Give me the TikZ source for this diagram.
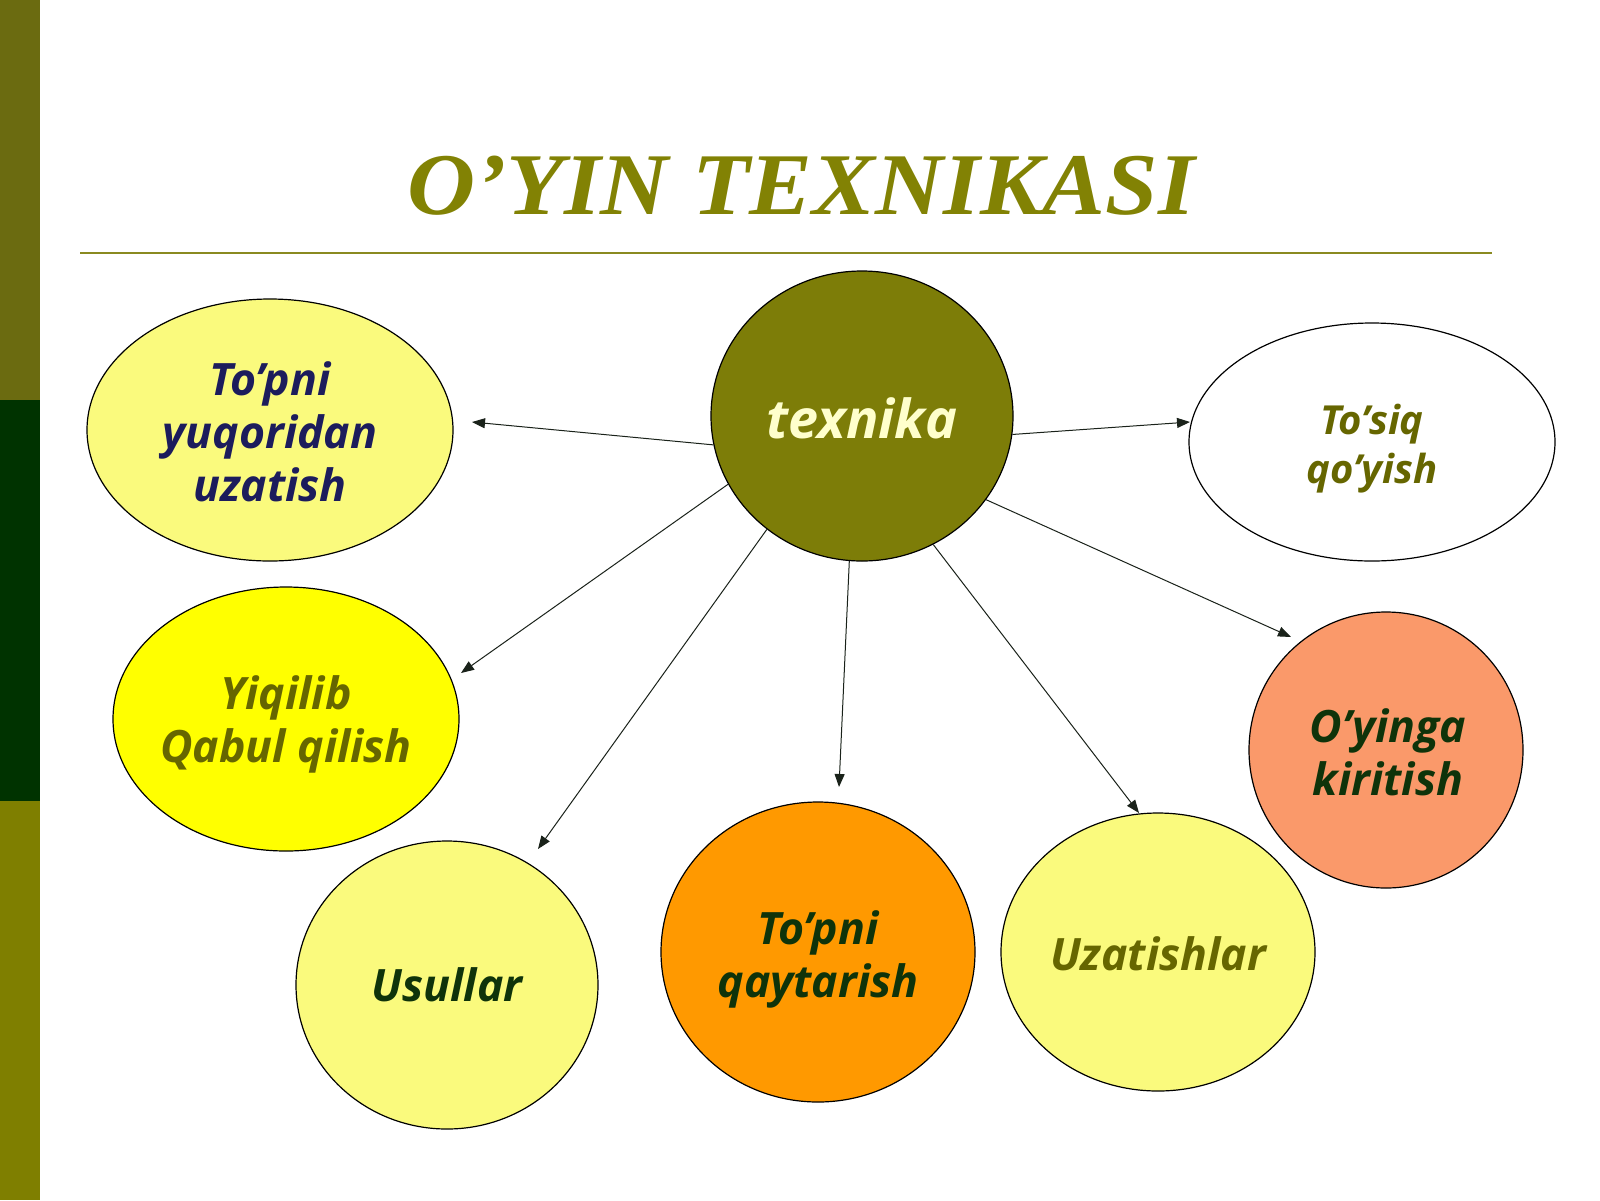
\documentclass[tikz,border=0pt]{standalone}
\usepackage{fontspec}
\usetikzlibrary{shapes.geometric,arrows.meta}
\newfontfamily\nodefont{Open Sans}
\newfontfamily\titlefont{Liberation Serif}
\definecolor{barTop}{HTML}{6B6B10}
\definecolor{barMid}{HTML}{003300}
\definecolor{barBot}{HTML}{7F7F00}
\definecolor{olive1}{HTML}{828204}
\definecolor{ruleCol}{HTML}{8A8A20}
\definecolor{lightYel}{HTML}{FAFA7D}
\definecolor{pureYel}{HTML}{FFFF00}
\definecolor{orangeF}{HTML}{FF9900}
\definecolor{salmonF}{HTML}{FA996A}
\definecolor{texF}{HTML}{7D7D08}
\definecolor{navyT}{HTML}{1C1C5C}
\definecolor{creamT}{HTML}{FFFFCC}
\definecolor{oliveT}{HTML}{666600}
\definecolor{dgreenT}{HTML}{0F330A}
\definecolor{arrCol}{HTML}{1A221A}
\tikzset{
  ell/.style={ellipse, draw=black, line width=0.6pt, inner sep=0pt},
  txt/.style={font=\nodefont\bfseries\itshape\fontsize{22.3}{26.5}\selectfont, align=center, inner sep=0pt},
  arr/.style={draw=arrCol, line width=0.5pt, -{Triangle[length=6.5pt,width=5pt]}}
}
\begin{document}
\begin{tikzpicture}[x=0.5pt,y=-0.5pt]
\useasboundingbox (0,0) rectangle (1600,1200);
\fill[white] (0,0) rectangle (1600,1200);
% left bar
\fill[barTop] (0,0) rectangle (40,400);
\fill[barMid] (0,400) rectangle (40,801);
\fill[barBot] (0,801) rectangle (40,1200);
% title
\node[anchor=base, inner sep=0pt, text=olive1, font=\titlefont\bfseries\itshape\fontsize{44}{50}\selectfont] (title) at (801,214) {\scalebox{1.07}[1]{O’YIN TEXNIKASI}};
\draw[ruleCol, line width=1.2pt] (80,253) -- (1492,253);
% nodes
\node[ell, fill=lightYel, minimum width=183pt, minimum height=131pt,
  label={[txt,text=navyT,yshift=-1pt]center:To’pni\\yuqoridan\\uzatish}] (a) at (270,430) {};
\node[ell, fill=texF, minimum width=151pt, minimum height=145pt,
  label={[txt,text=creamT,yshift=-1pt,font=\nodefont\bfseries\itshape\fontsize{26.9}{30}\selectfont]center:texnika}] (tex) at (862,416) {};
\node[ell, fill=white, minimum width=183pt, minimum height=119pt,
  label={[txt,text=oliveT,yshift=-3.5pt,font=\nodefont\bfseries\itshape\fontsize{20}{24.5}\selectfont]center:To’siq\\qo’yish}] (b) at (1372,442) {};
\node[ell, fill=pureYel, minimum width=173pt, minimum height=132pt,
  label={[txt,text=oliveT,yshift=-2.5pt]center:Yiqilib\\Qabul qilish}] (c) at (286,719) {};
\node[ell, fill=lightYel, minimum width=151pt, minimum height=144pt,
  label={[txt,text=dgreenT]center:Usullar}] (d) at (447,985) {};
\node[ell, fill=orangeF, minimum width=157pt, minimum height=150pt,
  label={[txt,text=dgreenT,yshift=-3.5pt]center:To’pni\\qaytarish}] (e) at (818,952) {};
\node[ell, fill=lightYel, minimum width=157pt, minimum height=139pt,
  label={[txt,text=oliveT,yshift=-1pt]center:Uzatishlar}] (f) at (1158,952) {};
\node[ell, fill=salmonF, minimum width=137pt, minimum height=138pt,
  label={[txt,text=dgreenT,yshift=-1pt,xshift=1pt]center:O’yinga\\kiritish}] (g) at (1386,750) {};
% arrow ends
\coordinate (ea) at (472,422);
\coordinate (eb) at (1190,422);
\coordinate (ec) at (461,673);
\coordinate (ed) at (538,849);
\coordinate (ee) at (839,787);
\coordinate (ef) at (1139,813);
\coordinate (eg) at (1291,637);
% arrows
\draw[arr] (tex.191.5) -- (ea);
\draw[arr] (tex.353) -- (eb);
\draw[arr] (tex.207) -- (ec);
\draw[arr] (tex.230) -- (ed);
\draw[arr] (tex.265) -- (ee);
\draw[arr] (tex.299.6) -- (ef);
\draw[arr] (tex.326) -- (eg);
\end{tikzpicture}
\end{document}
